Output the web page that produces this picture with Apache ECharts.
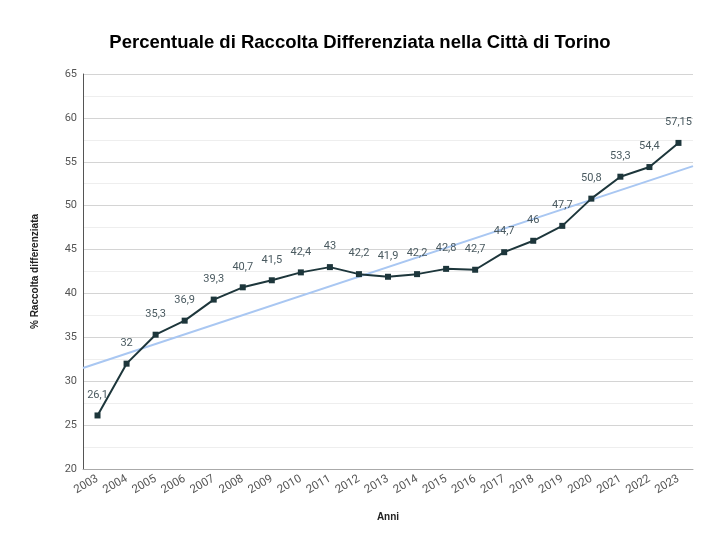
<!DOCTYPE html>
<html><head><meta charset="utf-8">
<script src="https://cdn.jsdelivr.net/npm/echarts@6/dist/echarts.min.js"></script>
<style>html,body{margin:0;padding:0;background:#fff}#c{width:720px;height:551px}</style>
</head><body><div id="c"></div>
<script>
const years = ['2003','2004','2005','2006','2007','2008','2009','2010','2011','2012','2013','2014','2015','2016','2017','2018','2019','2020','2021','2022','2023'];
const percent = [26.1,32,35.3,36.9,39.3,40.7,41.5,42.4,43,42.2,41.9,42.2,42.8,42.7,44.7,46,47.7,50.8,53.3,54.4,57.15];
const yTicks = [20,25,30,35,40,45,50,55,60,65];

// linear trend (least squares) of the data
const n = percent.length;
const mx = (n - 1) / 2;
const my = percent.reduce((a, b) => a + b, 0) / n;
let sxy = 0, sxx = 0;
percent.forEach((v, i) => { sxy += (i - mx) * (v - my); sxx += (i - mx) * (i - mx); });
const slope = sxy / sxx, icpt = my - slope * mx;
const trend = [[-0.5, icpt + slope * -0.5], [n - 0.5, icpt + slope * (n - 0.5)]];

const chart = echarts.init(document.getElementById('c'), null, {renderer: 'canvas'});
chart.setOption({
  animation: false,
  backgroundColor: '#fff',
  title: {
    text: 'Percentuale di Raccolta Differenziata nella Città di Torino',
    left: 'center', top: 28,
    textStyle: {fontFamily: 'Liberation Sans, Arial, sans-serif', fontSize: 18.5, fontWeight: 'bold', color: '#000'}
  },
  grid: {left: 83, right: 27, top: 74, bottom: 82},
  xAxis: [{
    type: 'category', data: years, boundaryGap: true,
    name: 'Anni', nameLocation: 'middle', nameGap: 43,
    nameTextStyle: {fontFamily: 'Liberation Sans, Arial, sans-serif', fontSize: 10, fontWeight: 'bold', color: '#222'},
    axisLine: {lineStyle: {color: '#aaa'}},
    axisTick: {show: false},
    axisLabel: {rotate: 30, color: '#555', fontFamily: 'Roboto, sans-serif', fontSize: 11.5, margin: 9, interval: 0}
  }, {
    type: 'value', min: -0.5, max: n - 0.5, show: false
  }],
  yAxis: {
    type: 'value', min: yTicks[0], max: yTicks[yTicks.length - 1], interval: 5,
    name: '% Raccolta differenziata', nameLocation: 'middle', nameGap: 43,
    nameTextStyle: {fontFamily: 'Liberation Sans, Arial, sans-serif', fontSize: 10, fontWeight: 'bold', color: '#222'},
    axisLine: {show: true, onZero: false, lineStyle: {color: '#555'}},
    axisTick: {show: false},
    axisLabel: {color: '#555', fontFamily: 'Roboto, sans-serif', fontSize: 11, margin: 6},
    splitLine: {lineStyle: {color: '#d4d4d4'}},
    minorTick: {show: false, splitNumber: 2},
    minorSplitLine: {show: true, lineStyle: {color: '#eeeeee'}}
  },
  series: [{
    type: 'line', xAxisIndex: 1, data: trend, symbol: 'none',
    lineStyle: {color: '#a9c7f2', width: 2}, z: 1, silent: true
  }, {
    type: 'line', xAxisIndex: 0, data: percent,
    symbol: 'rect', symbolSize: 6,
    lineStyle: {color: '#1d363b', width: 2},
    itemStyle: {color: '#1d363b'},
    label: {
      show: true, position: 'top', distance: 12,
      color: '#4a5a60', fontFamily: 'Roboto, sans-serif', fontSize: 11,
      formatter: p => String(p.value).replace('.', ',')
    },
    z: 3
  }]
});
</script></body></html>
